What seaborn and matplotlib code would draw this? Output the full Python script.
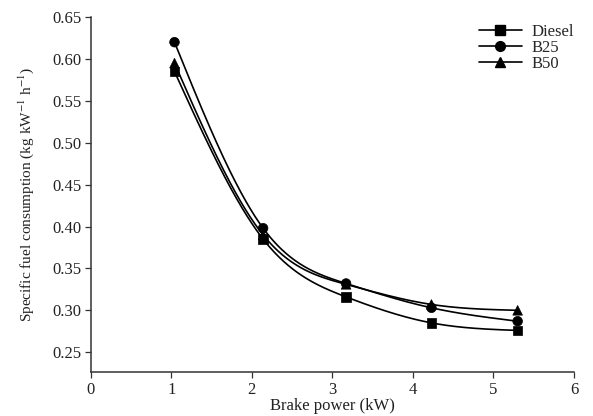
import numpy as np
import pandas as pd
import matplotlib
matplotlib.use("Agg")
import matplotlib.pyplot as plt
import seaborn as sns

# Brake power (kW) at the five load points
brake_power = [1.04, 2.14, 3.17, 4.23, 5.30]

# Specific fuel consumption (kg kW^-1 h^-1) for each fuel
diesel = [0.585, 0.385, 0.316, 0.285, 0.276]
b25 = [0.620, 0.398, 0.332, 0.303, 0.287]
b50 = [0.595, 0.390, 0.331, 0.307, 0.300]

fuels = ["Diesel", "B25", "B50"]
markers = {"Diesel": "s", "B25": "o", "B50": "^"}

df = pd.DataFrame({
    "power": brake_power * 3,
    "sfc": diesel + b25 + b50,
    "fuel": sum([[f] * len(brake_power) for f in fuels], []),
})


def smooth_curve(x, y, n=300):
    """Natural cubic spline through the measured points."""
    x = np.asarray(x, float)
    y = np.asarray(y, float)
    k = len(x)
    h = np.diff(x)
    A = np.zeros((k, k))
    r = np.zeros(k)
    A[0, 0] = A[-1, -1] = 1.0
    for i in range(1, k - 1):
        A[i, i - 1] = h[i - 1]
        A[i, i] = 2 * (h[i - 1] + h[i])
        A[i, i + 1] = h[i]
        r[i] = 6 * ((y[i + 1] - y[i]) / h[i] - (y[i] - y[i - 1]) / h[i - 1])
    M = np.linalg.solve(A, r)
    xs = np.linspace(x[0], x[-1], n)
    idx = np.clip(np.searchsorted(x, xs) - 1, 0, k - 2)
    hi = h[idx]
    a = x[idx + 1] - xs
    b = xs - x[idx]
    ys = (M[idx] * a**3 / (6 * hi) + M[idx + 1] * b**3 / (6 * hi)
          + (y[idx] / hi - M[idx] * hi / 6) * a
          + (y[idx + 1] / hi - M[idx + 1] * hi / 6) * b)
    return xs, ys


sns.set_theme(style="ticks")
plt.rcParams["font.family"] = ["Liberation Serif", "DejaVu Serif"]
plt.rcParams["mathtext.fontset"] = "stix"

fs = 12
fig = plt.figure(figsize=(5.93, 4.16), dpi=100)
ax = fig.add_axes([0.153, 0.106, 0.815, 0.853])

for fuel in fuels:
    sub = df[df["fuel"] == fuel]
    xs, ys = smooth_curve(sub["power"], sub["sfc"])
    ax.plot(xs, ys, color="black", lw=1.2, zorder=2)

sns.scatterplot(data=df, x="power", y="sfc", style="fuel", markers=markers,
                color="black", s=48, edgecolor="black", linewidth=0.5,
                legend=False, ax=ax, zorder=3)

# legend entries: line with marker
handles = [plt.Line2D([], [], color="black", lw=1.2, marker=markers[f],
                      markersize=7, markerfacecolor="black")
           for f in fuels]
leg = ax.legend(handles, fuels, loc="upper right", bbox_to_anchor=(1.025, 1.013),
                frameon=False, fontsize=fs, handlelength=2.6,
                handletextpad=0.6, labelspacing=0.0, borderpad=0.2)

ax.set_xlim(0, 6)
ax.set_ylim(0.2265, 0.65)
ax.set_xticks(range(0, 7))
ax.set_yticks(np.arange(0.25, 0.651, 0.05))
ax.set_yticklabels([f"{v:.2f}" for v in np.arange(0.25, 0.651, 0.05)])
ax.tick_params(axis="both", labelsize=fs, length=4.5, width=0.9,
               color="#333333", labelcolor="#222222", pad=2)
ax.tick_params(axis="x", pad=3)

ax.set_xlabel("Brake power (kW)", fontsize=fs, labelpad=0, color="#222222")
ax.set_ylabel("Specific fuel consumption (kg kW$^{-1}$ h$^{-1}$)",
              fontsize=fs - 1, labelpad=12, color="#222222")

for side in ("top", "right"):
    ax.spines[side].set_visible(False)
for side in ("left", "bottom"):
    ax.spines[side].set_linewidth(1.1)
    ax.spines[side].set_color("#333333")

fig.savefig("out.png", dpi=100, facecolor="white")
